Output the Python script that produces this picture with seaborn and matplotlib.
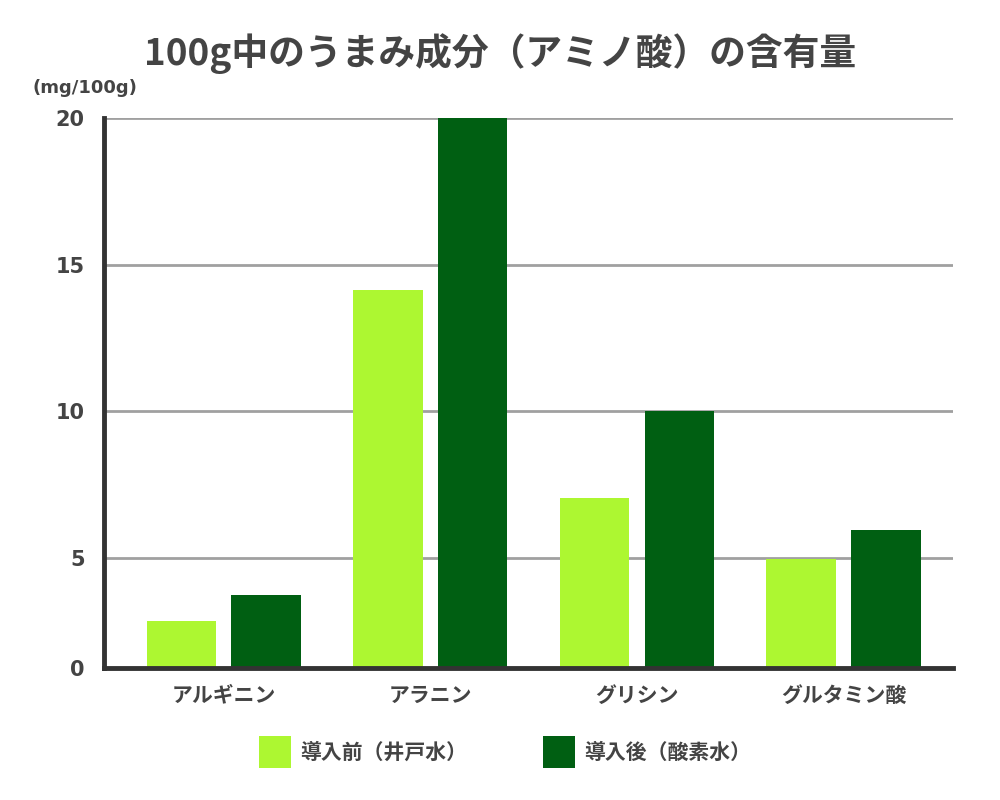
import matplotlib
matplotlib.use('Agg')
import matplotlib.pyplot as plt
import seaborn as sns
import pandas as pd
from matplotlib.patches import Patch

sns.set_style('white')
plt.rcParams['font.family'] = ['Noto Sans CJK JP', 'DejaVu Sans']

# データ
amino_acids = ['アルギニン', 'アラニン', 'グリシン', 'グルタミン酸']
before = [2.85, 14.15, 7.05, 4.95]   # 導入前（井戸水）
after = [3.75, 20.0, 10.0, 5.95]     # 導入後（酸素水）
series = ['導入前（井戸水）', '導入後（酸素水）']
colors = ['#adf731', '#005f12']
y_ticks = [1.25, 5, 10, 15, 20]
y_labels = ['0', '5', '10', '15', '20']

df = pd.DataFrame({
    'amino': amino_acids * 2,
    'value': before + after,
    'series': [series[0]] * 4 + [series[1]] * 4,
})

fig = plt.figure(figsize=(10, 8), dpi=100)
ax = fig.add_axes([0.104, 0.165, 0.849, 0.6875])

sns.barplot(data=df, x='amino', y='value', hue='series', palette=colors,
            width=0.82, gap=0.18, saturation=1, linewidth=0, ax=ax,
            legend=False, zorder=3)

ax.set_ylim(1.25, 20)
ax.set_xlim(-0.58, 3.53)
ax.set_yticks(y_ticks)
ax.set_yticklabels(y_labels, fontsize=15, fontweight='bold', color='#444444',
                   family=['DejaVu Sans'])
for y in y_ticks[1:]:
    ax.axhline(y, color='#a0a0a0', lw=2, zorder=1)
ax.tick_params(axis='y', length=0, pad=14)
ax.tick_params(axis='x', length=0, pad=12)
for lab in ax.get_xticklabels():
    lab.set_fontsize(15)
    lab.set_fontweight('bold')
    lab.set_color('#444444')
ax.set_xlabel('')
ax.set_ylabel('')

for s in ['top', 'right']:
    ax.spines[s].set_visible(False)
for s in ['left', 'bottom']:
    ax.spines[s].set_linewidth(3.5)
    ax.spines[s].set_color('#333333')
    ax.spines[s].set_zorder(5)

fig.text(0.5, 0.933, '100g中のうまみ成分（アミノ酸）の含有量', ha='center', va='center',
         fontsize=26.5, fontweight='bold', color='#444444')
fig.text(0.033, 0.89, '(mg/100g)', ha='left', va='center', fontsize=13,
         fontweight='bold', color='#444444', family=['DejaVu Sans'])

handles = [Patch(facecolor=c, edgecolor='none') for c in colors]
leg = fig.legend(handles, series, loc='center', bbox_to_anchor=(0.505, 0.06), ncol=2,
                 frameon=False, handlelength=1.54, handleheight=1.98,
                 columnspacing=3.6, handletextpad=0.45,
                 prop={'size': 15, 'weight': 'bold'})
for t in leg.get_texts():
    t.set_color('#444444')

fig.savefig('out.png', dpi=100)
